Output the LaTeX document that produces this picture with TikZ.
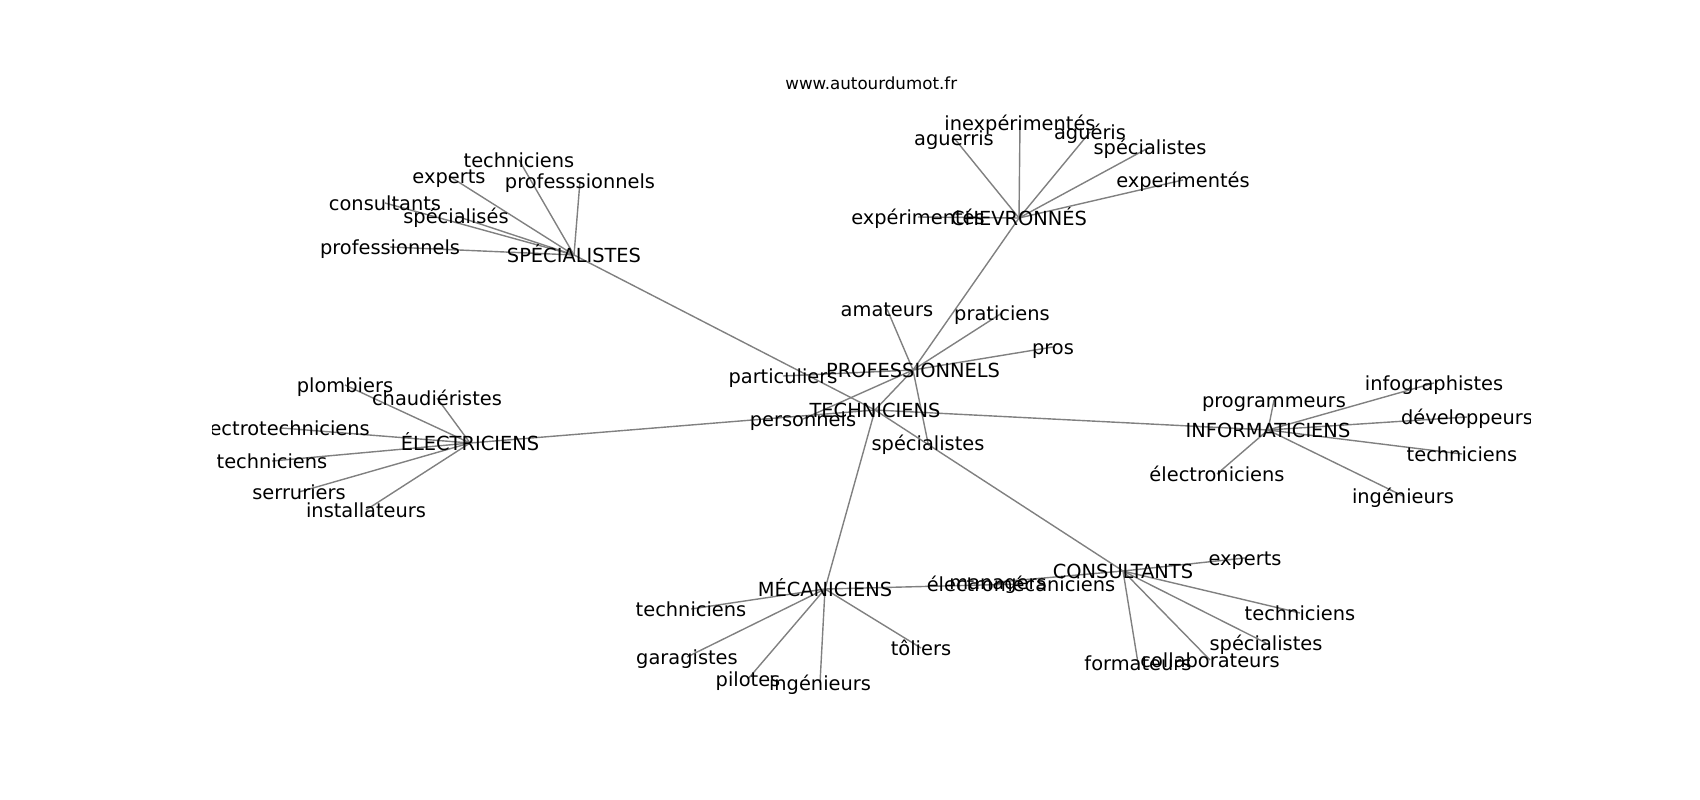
\documentclass[tikz,border=0pt]{standalone}
\usepackage{fontspec}
\setmainfont{DejaVu Sans}
\usetikzlibrary{backgrounds}
\definecolor{edgegray}{RGB}{128,128,128}
\newcommand\lblfont{\fontsize{19.4}{23}\selectfont}
\newcommand\ttlfont{\fontsize{16.7}{20}\selectfont}

\begin{document}
\begin{tikzpicture}[x=1pt, y=-1pt, w/.style={font=\lblfont, inner sep=0pt, text height=19.6pt, text depth=4.1pt}, e/.style={draw=edgegray, line width=1.4pt}]
		\useasboundingbox (0,0) rectangle (1700,800);
		\node [font=\ttlfont] (title) at (871.25,83) {www.autourdumot.fr};

		\begin{scope}
		\clip (212.5,96) rectangle (1530,712);
		% main words
		\node [w] (pro)  at (913,370)  {PROFESSIONNELS};
		\node [w] (tech) at (875,410)  {TECHNICIENS};
		\node [w] (spec) at (574,255)  {SPÉCIALISTES};
		\node [w] (chev) at (1019,218) {CHEVRONNÉS};
		\node [w] (elec) at (470,443)  {ÉLECTRICIENS};
		\node [w] (info) at (1268,430) {INFORMATICIENS};
		\node [w] (meca) at (825,589)  {MÉCANICIENS};
		\node [w] (cons) at (1123,571) {CONSULTANTS};

		% leaves
		\node [w] (pr1) at (887,309)  {amateurs};
		\node [w] (pr2) at (1002,313) {praticiens};
		\node [w] (pr3) at (1053,347) {pros};
		\node [w] (pr4) at (783,376)  {particuliers};
		\node [w] (pr5) at (803,419)  {personnels};
		\node [w] (pr6) at (928,443)  {spécialistes};

		\node [w] (ch1) at (1020,123) {inexpérimentés};
		\node [w] (ch2) at (954,138)  {aguerris};
		\node [w] (ch3) at (1090,132) {aguéris};
		\node [w] (ch4) at (1150,147) {spécialistes};
		\node [w] (ch5) at (1183,180) {experimentés};
		\node [w] (ch6) at (918,217)  {expérimentés};

		\node [w] (sp1) at (519,160) {techniciens};
		\node [w] (sp2) at (449,176) {experts};
		\node [w] (sp3) at (580,181) {professsionnels};
		\node [w] (sp4) at (385,203) {consultants};
		\node [w] (sp5) at (456,216) {spécialisés};
		\node [w] (sp6) at (390,247) {professionnels};

		\node [w] (el1) at (345,385) {plombiers};
		\node [w] (el2) at (437,398) {chaudiéristes};
		\node [w] (el3) at (281,428) {électrotechniciens};
		\node [w] (el4) at (272,461) {techniciens};
		\node [w] (el5) at (299,492) {serruriers};
		\node [w] (el6) at (366,510) {installateurs};

		\node [w] (in1) at (1274,400) {programmeurs};
		\node [w] (in2) at (1434,383) {infographistes};
		\node [w] (in3) at (1467,417) {développeurs};
		\node [w] (in4) at (1462,454) {techniciens};
		\node [w] (in5) at (1403,496) {ingénieurs};
		\node [w] (in6) at (1217,474) {électroniciens};

		\node [w] (me1) at (691,609)  {techniciens};
		\node [w] (me2) at (687,657)  {garagistes};
		\node [w] (me3) at (748,679)  {pilotes};
		\node [w] (me4) at (820,683)  {ingénieurs};
		\node [w] (me5) at (921,648)  {tôliers};
		\node [w] (me6) at (1021,584) {électromécaniciens};

		\node [w] (co1) at (998,582)  {managers};
		\node [w] (co2) at (1245,558) {experts};
		\node [w] (co3) at (1300,613) {techniciens};
		\node [w] (co4) at (1266,643) {spécialistes};
		\node [w] (co5) at (1210,660) {collaborateurs};
		\node [w] (co6) at (1138,663) {formateurs};

		\begin{scope}[on background layer]
		\path[e] (tech.center) edge (pro.center);
		\path[e] (tech.center) edge (spec.center);
		\path[e] (tech.center) edge (elec.center);
		\path[e] (tech.center) edge (info.center);
		\path[e] (tech.center) edge (meca.center);
		\path[e] (tech.center) edge (cons.center);
		\path[e] (pro.center)  edge (chev.center);

		\path[e] (pro.center) edge (pr1.center);
		\path[e] (pro.center) edge (pr2.center);
		\path[e] (pro.center) edge (pr3.center);
		\path[e] (pro.center) edge (pr4.center);
		\path[e] (pro.center) edge (pr5.center);
		\path[e] (pro.center) edge (pr6.center);

		\path[e] (chev.center) edge (ch1.center);
		\path[e] (chev.center) edge (ch2.center);
		\path[e] (chev.center) edge (ch3.center);
		\path[e] (chev.center) edge (ch4.center);
		\path[e] (chev.center) edge (ch5.center);
		\path[e] (chev.center) edge (ch6.center);

		\path[e] (spec.center) edge (sp1.center);
		\path[e] (spec.center) edge (sp2.center);
		\path[e] (spec.center) edge (sp3.center);
		\path[e] (spec.center) edge (sp4.center);
		\path[e] (spec.center) edge (sp5.center);
		\path[e] (spec.center) edge (sp6.center);

		\path[e] (elec.center) edge (el1.center);
		\path[e] (elec.center) edge (el2.center);
		\path[e] (elec.center) edge (el3.center);
		\path[e] (elec.center) edge (el4.center);
		\path[e] (elec.center) edge (el5.center);
		\path[e] (elec.center) edge (el6.center);

		\path[e] (info.center) edge (in1.center);
		\path[e] (info.center) edge (in2.center);
		\path[e] (info.center) edge (in3.center);
		\path[e] (info.center) edge (in4.center);
		\path[e] (info.center) edge (in5.center);
		\path[e] (info.center) edge (in6.center);

		\path[e] (meca.center) edge (me1.center);
		\path[e] (meca.center) edge (me2.center);
		\path[e] (meca.center) edge (me3.center);
		\path[e] (meca.center) edge (me4.center);
		\path[e] (meca.center) edge (me5.center);
		\path[e] (meca.center) edge (me6.center);

		\path[e] (cons.center) edge (co1.center);
		\path[e] (cons.center) edge (co2.center);
		\path[e] (cons.center) edge (co3.center);
		\path[e] (cons.center) edge (co4.center);
		\path[e] (cons.center) edge (co5.center);
		\path[e] (cons.center) edge (co6.center);
		\end{scope}
		\end{scope}
	\end{tikzpicture}
\end{document}
